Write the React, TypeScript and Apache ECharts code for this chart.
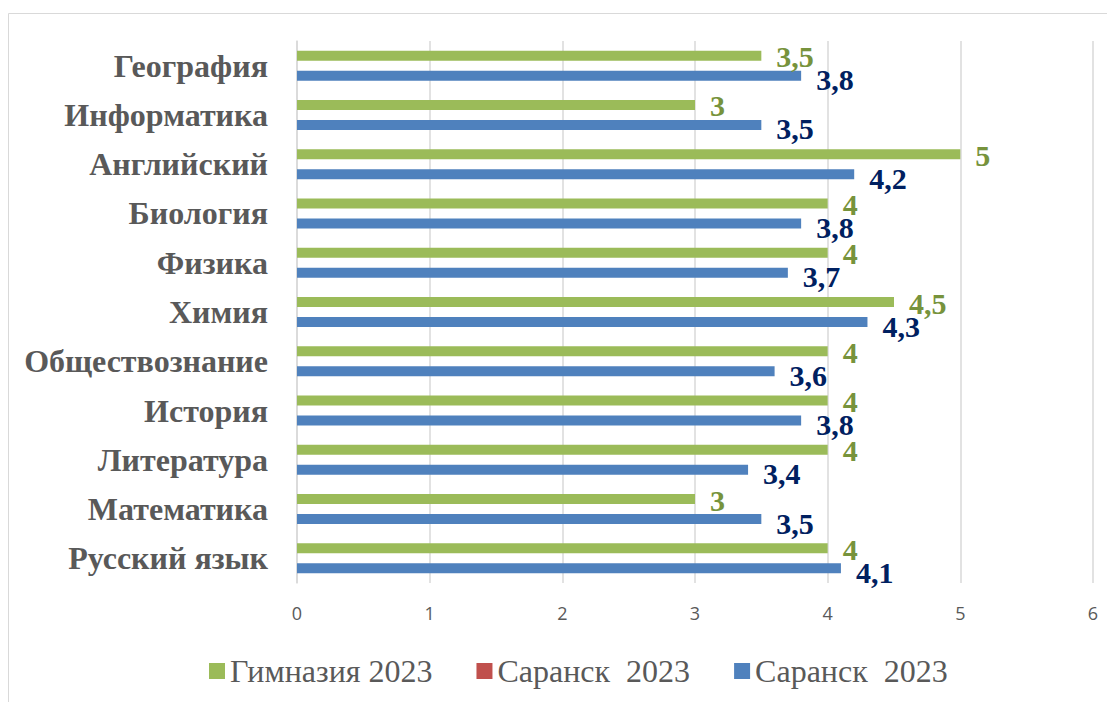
import React, { useEffect, useRef } from "react";
import * as echarts from "echarts";

const categories = [
  "Русский язык",
  "Математика",
  "Литература",
  "История",
  "Обществознание",
  "Химия",
  "Физика",
  "Биология",
  "Английский",
  "Информатика",
  "География",
];
const gymnasium2023 = [4, 3, 4, 4, 4, 4.5, 4, 4, 5, 3, 3.5];
const saranskRed2023: (number | null)[] = [null, null, null, null, null, null, null, null, null, null, null];
const saranskBlue2023 = [4.1, 3.5, 3.4, 3.8, 3.6, 4.3, 3.7, 3.8, 4.2, 3.5, 3.8];
const xTicks = [0, 6, 1];
const seriesNames = ["Гимназия 2023", "Саранск  2023", "Саранск\u00a0 2023"];

const fmt = (p: any) => String(p.value).replace(".", ",");

export default function App() {
  const ref = useRef<HTMLDivElement>(null);
  useEffect(() => {
    if (!ref.current) return;
    const chart = echarts.init(ref.current, null, { renderer: "svg" });
    const serif = "'Liberation Serif', 'Times New Roman', serif";
    chart.setOption({
      animation: false,
      graphic: [
        {
          type: "rect",
          shape: { x: 0.5, y: 5.5, width: 1300, height: 900 },
          style: { fill: "none", stroke: "#d9d9d9", lineWidth: 1 },
          silent: true,
        },
      ],
      grid: { left: 289, right: 22, top: 33, bottom: 119 },
      legend: {
        bottom: 10,
        left: 196,
        itemWidth: 16,
        itemHeight: 16,
        itemGap: 44,
        icon: "rect",
        data: seriesNames,
        textStyle: { fontFamily: serif, fontSize: 32, color: "#595959" },
      },
      xAxis: {
        type: "value",
        min: xTicks[0],
        max: xTicks[1],
        interval: xTicks[2],
        axisLine: { show: false },
        axisTick: { show: false },
        splitLine: { lineStyle: { color: "#d9d9d9", width: 1.5 } },
        axisLabel: {
          margin: 21,
          fontSize: 18,
          color: "#595959",
          fontFamily: "'Open Sans', sans-serif",
        },
      },
      yAxis: {
        type: "category",
        data: categories,
        axisLine: { show: true, lineStyle: { color: "#d9d9d9", width: 1.5 } },
        axisTick: { show: false },
        axisLabel: {
          margin: 29,
          fontSize: 32,
          fontWeight: "bold",
          color: "#595959",
          fontFamily: serif,
        },
      },
      series: [
        {
          name: seriesNames[0],
          type: "bar",
          data: gymnasium2023,
          barWidth: 10,
          barGap: "0%",
          itemStyle: { color: "#9bbb59" },
          label: {
            show: true,
            position: "right",
            distance: 15,
            formatter: fmt,
            fontFamily: serif,
            fontWeight: "bold",
            fontSize: 30,
            color: "#77933c",
            offset: [0, 1],
          },
        },
        {
          name: seriesNames[1],
          type: "bar",
          data: saranskRed2023,
          barWidth: 10,
          barGap: "0%",
          itemStyle: { color: "#c0504d" },
        },
        {
          name: seriesNames[2],
          type: "bar",
          data: saranskBlue2023,
          barWidth: 10,
          barGap: "0%",
          itemStyle: { color: "#4f81bd" },
          label: {
            show: true,
            position: "right",
            distance: 15,
            formatter: fmt,
            fontFamily: serif,
            fontWeight: "bold",
            fontSize: 30,
            color: "#002060",
            offset: [0, 4],
          },
        },
      ],
    });
    return () => chart.dispose();
  }, []);
  return <div ref={ref} style={{ width: 1107, height: 694 }} />;
}
